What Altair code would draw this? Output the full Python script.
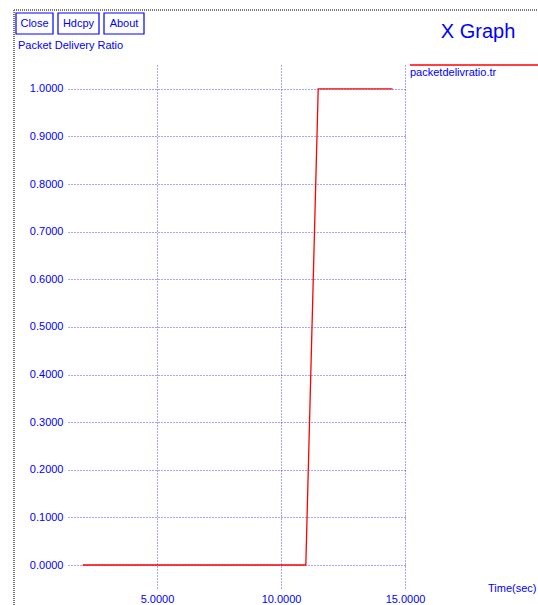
import altair as alt
import pandas as pd

# data
time_sec = [2.0, 11.0, 11.5, 14.5]
pdr = [0.0, 0.0, 1.0, 1.0]
x_ticks = [5.0, 10.0, 15.0]
y_ticks = [0.0, 0.1, 0.2, 0.3, 0.4, 0.5, 0.6, 0.7, 0.8, 0.9, 1.0]
buttons = ["Close", "Hdcpy", "About"]
series_name = "packetdelivratio.tr"

BLUE = "#0000ff"
FONT = "Liberation Sans"
W, H = 337, 525

df = pd.DataFrame({"t": time_sec, "r": pdr})
one = pd.DataFrame({"a": [0]})

xscale = alt.Scale(domain=[1.41, 15.0], nice=False, zero=False)
yscale = alt.Scale(domain=[-0.0525, 1.05], nice=False, zero=False)

grid_axis_common = dict(
    grid=True, gridColor=BLUE, gridDash=[1, 2], gridOpacity=0.7, gridWidth=1,
    domain=False, ticks=False, labelColor=BLUE, labelFont=FONT, labelFontSize=11,
    format=".4f", title=None, labelFlush=False, labelOverlap=False,
)

line = alt.Chart(df).mark_line(color="#ff0000", strokeWidth=1.3).encode(
    x=alt.X("t:Q", scale=xscale,
            axis=alt.Axis(values=x_ticks, labelPadding=3, **grid_axis_common)),
    y=alt.Y("r:Q", scale=yscale,
            axis=alt.Axis(values=y_ticks, labelPadding=5, **grid_axis_common)),
)

layers = [line]

# window borders (dashed gray)
layers.append(alt.Chart(one).mark_rule(color="#777777", strokeDash=[1, 1], strokeWidth=2).encode(
    x=alt.value(-54), y=alt.value(-55), y2=alt.value(540)))
layers.append(alt.Chart(one).mark_rule(color="#777777", strokeDash=[1, 1], strokeWidth=2).encode(
    x=alt.value(-54), x2=alt.value(470), y=alt.value(-55)))

# buttons
bx = [(-52, -15), (-10, 31), (36, 76)]
for label, (x0, x1) in zip(buttons, bx):
    layers.append(alt.Chart(one).mark_rect(fill="white", stroke=BLUE, strokeWidth=1.2).encode(
        x=alt.value(x0), x2=alt.value(x1), y=alt.value(-52), y2=alt.value(-31)))
    layers.append(alt.Chart(one).mark_text(text=label, color=BLUE, font=FONT, fontSize=11,
                                           align="center", baseline="middle").encode(
        x=alt.value((x0 + x1) / 2), y=alt.value(-41)))

# y title
layers.append(alt.Chart(one).mark_text(text="Packet Delivery Ratio", color=BLUE, font=FONT,
                                       fontSize=11, align="left", baseline="middle").encode(
    x=alt.value(-50), y=alt.value(-19)))

# X Graph title
layers.append(alt.Chart(one).mark_text(text="X Graph", color=BLUE, font=FONT, fontSize=20,
                                       align="center", baseline="middle").encode(
    x=alt.value(410), y=alt.value(-33)))

# legend
layers.append(alt.Chart(one).mark_rule(color="#ff0000", strokeWidth=1.3).encode(
    x=alt.value(342), x2=alt.value(470), y=alt.value(0)))
layers.append(alt.Chart(one).mark_text(text=series_name, color=BLUE, font=FONT, fontSize=11,
                                       align="left", baseline="middle").encode(
    x=alt.value(342), y=alt.value(8)))

# x title
layers.append(alt.Chart(one).mark_text(text="Time(sec)", color=BLUE, font=FONT, fontSize=11,
                                       align="left", baseline="middle").encode(
    x=alt.value(420), y=alt.value(524)))

chart = alt.layer(*layers).properties(
    width=W, height=H,
    autosize=alt.AutoSizeParams(type="none"),
    padding={"left": 68, "top": 65, "right": 133, "bottom": 15},
    background="white",
).configure_view(stroke=None)

chart.save("out.html", embed_options={"renderer": "svg", "actions": False})
